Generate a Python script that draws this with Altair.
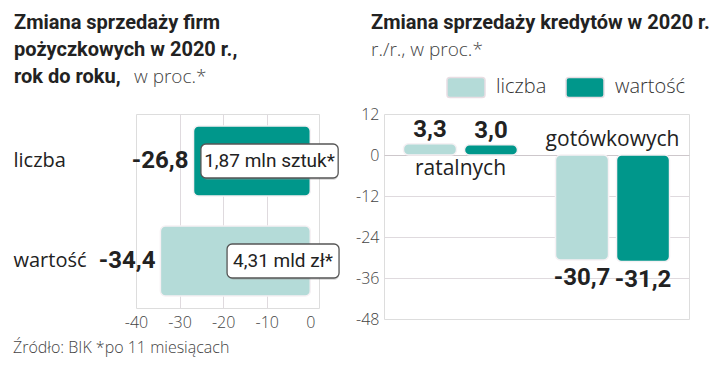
import altair as alt
import pandas as pd

# ---------------- data ----------------
left_categories = ["liczba", "wartość"]
left_values = [-26.8, -34.4]
left_notes = ["1,87 mln sztuk*", "4,31 mld zł*"]
left_ticks = [-40, -30, -20, -10, 0]

right_types = ["ratalnych", "gotówkowych"]
right_series = ["liczba", "wartość"]
right_ratalne = [3.3, 3.0]
right_gotowkowe = [-30.7, -31.2]
right_ticks = [12, 0, -12, -24, -36, -48]

# ---------------- styles ----------------
DARK = "#00978b"
LIGHT = "#b4dbd8"
BG = "#efebee"
GRID = "#dfdade"
EDGE = "#f6f1f4"
TXT = "#222222"
SOFT = "#444444"
FONT = "Open Sans"
TFONT = "Roboto"
NUM = "Roboto"

# annotation box extents along the x axis (in axis units)
note_box_left = [-25.1, -19.1]
note_box_right = [6.4, 6.6]


def fmt(v):
    return f"{v:.1f}".replace(".", ",")


def txt(text, x, y, **kw):
    style = dict(align="left", baseline="alphabetic", font=FONT)
    style.update(kw)
    return alt.Chart(pd.DataFrame({"t": [text]})).mark_text(**style).encode(
        text="t:N", x=alt.value(x), y=alt.value(y)
    )


# ---------------- left panel ----------------
dl = pd.DataFrame({
    "cat": left_categories,
    "v": left_values,
    "lab": [fmt(v) for v in left_values],
    "note": left_notes,
    "b0": note_box_left,
    "b1": note_box_right,
})
dl["mid"] = (dl["b0"] + dl["b1"]) / 2

xl_scale = alt.Scale(domain=[-40, 2], nice=False, zero=False)
yl = alt.Y(
    "cat:N", sort=left_categories,
    scale=alt.Scale(paddingInner=0.3, paddingOuter=0.12),
    axis=alt.Axis(title=None, domain=False, ticks=False, tickSize=0,
                  labelAlign="left", labelPadding=123, labelFontSize=20,
                  labelColor=TXT, labelFont=FONT, labelLimit=200),
)
xl = alt.X(
    "v:Q", scale=xl_scale,
    axis=alt.Axis(values=left_ticks, title=None, domain=False, ticks=False, tickSize=0,
                  labelPadding=6, labelFontSize=16, labelColor=SOFT, labelFont=FONT,
                  labelFontWeight=300, labelExpr="'' + datum.value", labelFlush=False,
                  grid=True, gridColor=GRID,
                  gridOpacity={"condition": {"test": "datum.value == -40 || datum.value == 0", "value": 0}, "value": 1}),
)

base_l = alt.Chart(dl)
bars_l = base_l.mark_bar(cornerRadius=5, stroke=EDGE, strokeWidth=1.5).encode(
    x=xl, x2=alt.datum(0), y=yl,
    color=alt.condition(alt.datum.cat == "liczba", alt.value(DARK), alt.value(LIGHT)),
)
vals_l = base_l.mark_text(align="right", dx=-5, font=NUM, fontWeight="bold",
                          fontSize=24, color=TXT).encode(
    x=alt.X("v:Q", scale=xl_scale), y=alt.Y("cat:N", sort=left_categories), text="lab:N")
shadow_l = base_l.mark_bar(size=34, cornerRadius=5, color="#9a9a9a", opacity=0.35,
                           xOffset=2, yOffset=2).encode(
    x=alt.X("b0:Q", scale=xl_scale), x2="b1:Q", y=alt.Y("cat:N", sort=left_categories))
box_l = base_l.mark_bar(size=34, cornerRadius=5, color="white", stroke="#555555",
                        strokeWidth=1.3).encode(
    x=alt.X("b0:Q", scale=xl_scale), x2="b1:Q", y=alt.Y("cat:N", sort=left_categories))
note_l = base_l.mark_text(font=NUM, fontSize=19, color=TXT).encode(
    x=alt.X("mid:Q", scale=xl_scale), y=alt.Y("cat:N", sort=left_categories), text="note:N")

titles_l = [
    txt("Zmiana sprzedaży firm", -122, -85, font=TFONT, fontSize=20, fontWeight="bold", color=TXT),
    txt("pożyczkowych w 2020 r.,", -122, -58, font=TFONT, fontSize=20, fontWeight="bold", color=TXT),
    txt("rok do roku,", -122, -31, font=TFONT, fontSize=20, fontWeight="bold", color=TXT),
    txt("w proc.*", -2, -31, fontSize=19, fontWeight=300, color=SOFT),
    txt("Źródło: BIK *po 11 miesiącach", -123, 239, fontSize=16, fontWeight=300, color=SOFT),
]

left = alt.layer(bars_l, vals_l, shadow_l, box_l, note_l, *titles_l).properties(
    width=183, height=194)

# ---------------- right panel ----------------
rows = []
for s, v in zip(right_series, right_ratalne):
    rows.append({"type": right_types[0], "series": s, "value": v})
for s, v in zip(right_series, right_gotowkowe):
    rows.append({"type": right_types[1], "series": s, "value": v})
dr = pd.DataFrame(rows)
dr["lab"] = [fmt(v) for v in dr["value"]]

xr = alt.X("type:N", sort=right_types,
           scale=alt.Scale(paddingInner=0.25, paddingOuter=0.128), axis=None)
xo = alt.XOffset("series:N", sort=right_series,
                 scale=alt.Scale(paddingInner=0.131, paddingOuter=0))
yr_scale = alt.Scale(domain=[-48, 12], nice=False)
yr = alt.Y(
    "value:Q", scale=yr_scale,
    axis=alt.Axis(values=right_ticks, title=None, domain=False, ticks=False, tickSize=0,
                  labelPadding=5, labelFontSize=16, labelColor=SOFT, labelFont=FONT,
                  labelFontWeight=300, labelExpr="'' + datum.value", labelFlush=False,
                  grid=True,
                  gridColor={"condition": {"test": "datum.value == 0", "value": "#cdc7cb"}, "value": GRID},
                  gridOpacity={"condition": {"test": "datum.value == 12 || datum.value == -48", "value": 0}, "value": 1}),
)
swatch = ("M-0.85,-0.53H0.85A0.15,0.15 0 0 1 1,-0.38V0.38A0.15,0.15 0 0 1 0.85,0.53"
          "H-0.85A0.15,0.15 0 0 1 -1,0.38V-0.38A0.15,0.15 0 0 1 -0.85,-0.53Z")
color_r = alt.Color(
    "series:N", scale=alt.Scale(domain=right_series, range=[LIGHT, DARK]),
    legend=alt.Legend(title=None, orient="none", direction="horizontal",
                      legendX=62, legendY=-47, padding=0,
                      symbolType=swatch, symbolSize=1444, symbolStrokeColor="#e8dde3",
                      symbolStrokeWidth=1.5, symbolOpacity=1,
                      labelFont=FONT, labelFontSize=20, labelFontWeight=300,
                      labelColor="#333333", labelOffset=10, columnPadding=16,
                      labelLimit=200),
)

base_r = alt.Chart(dr)
bars_r = base_r.mark_bar(cornerRadius=5, stroke=EDGE, strokeWidth=1.5).encode(
    x=xr, xOffset=xo, y=yr, y2=alt.datum(0), color=color_r)
pos_r = base_r.transform_filter("datum.value > 0").mark_text(
    baseline="bottom", dy=-2, font=NUM, fontWeight="bold", fontSize=24, color=TXT).encode(
    x=alt.X("type:N", sort=right_types), xOffset=alt.XOffset("series:N", sort=right_series),
    y=alt.Y("value:Q", scale=yr_scale), text="lab:N")
neg_r = base_r.transform_filter("datum.value < 0").mark_text(
    baseline="top", dy=6, font=NUM, fontWeight="bold", fontSize=24, color=TXT).encode(
    x=alt.X("type:N", sort=right_types), xOffset=alt.XOffset("series:N", sort=right_series),
    y=alt.Y("value:Q", scale=yr_scale), text="lab:N")

dc = pd.DataFrame({"type": right_types, "zero": [0, 0],
                   "sign": [1 if right_ratalne[0] > 0 else -1, 1 if right_gotowkowe[0] > 0 else -1]})
cat_below = alt.Chart(dc).transform_filter("datum.sign > 0").mark_text(
    baseline="top", dy=3, font=FONT, fontSize=21, color=TXT).encode(
    x=alt.X("type:N", sort=right_types), y=alt.Y("zero:Q", scale=yr_scale), text="type:N")
cat_above = alt.Chart(dc).transform_filter("datum.sign < 0").mark_text(
    baseline="alphabetic", dy=-9, font=FONT, fontSize=21, color=TXT).encode(
    x=alt.X("type:N", sort=right_types), y=alt.Y("zero:Q", scale=yr_scale), text="type:N")

titles_r = [
    txt("Zmiana sprzedaży kredytów w 2020 r.", -13, -85, font=TFONT, fontSize=20, fontWeight="bold", color=TXT),
    txt("r./r., w proc.*", -13, -58, fontSize=19, fontWeight=300, color=SOFT),
]

right = alt.layer(bars_r, pos_r, neg_r, cat_below, cat_above, *titles_r).properties(
    width=305, height=205)

chart = alt.hconcat(left, right, spacing=14).resolve_legend(color="independent").properties(
    padding={"left": 4, "top": 4, "right": 0, "bottom": 0}
).configure_view(fill=BG, stroke=None, cornerRadius=10).configure(background="white")

chart.save("out.html", embed_options={"renderer": "svg", "actions": False})
